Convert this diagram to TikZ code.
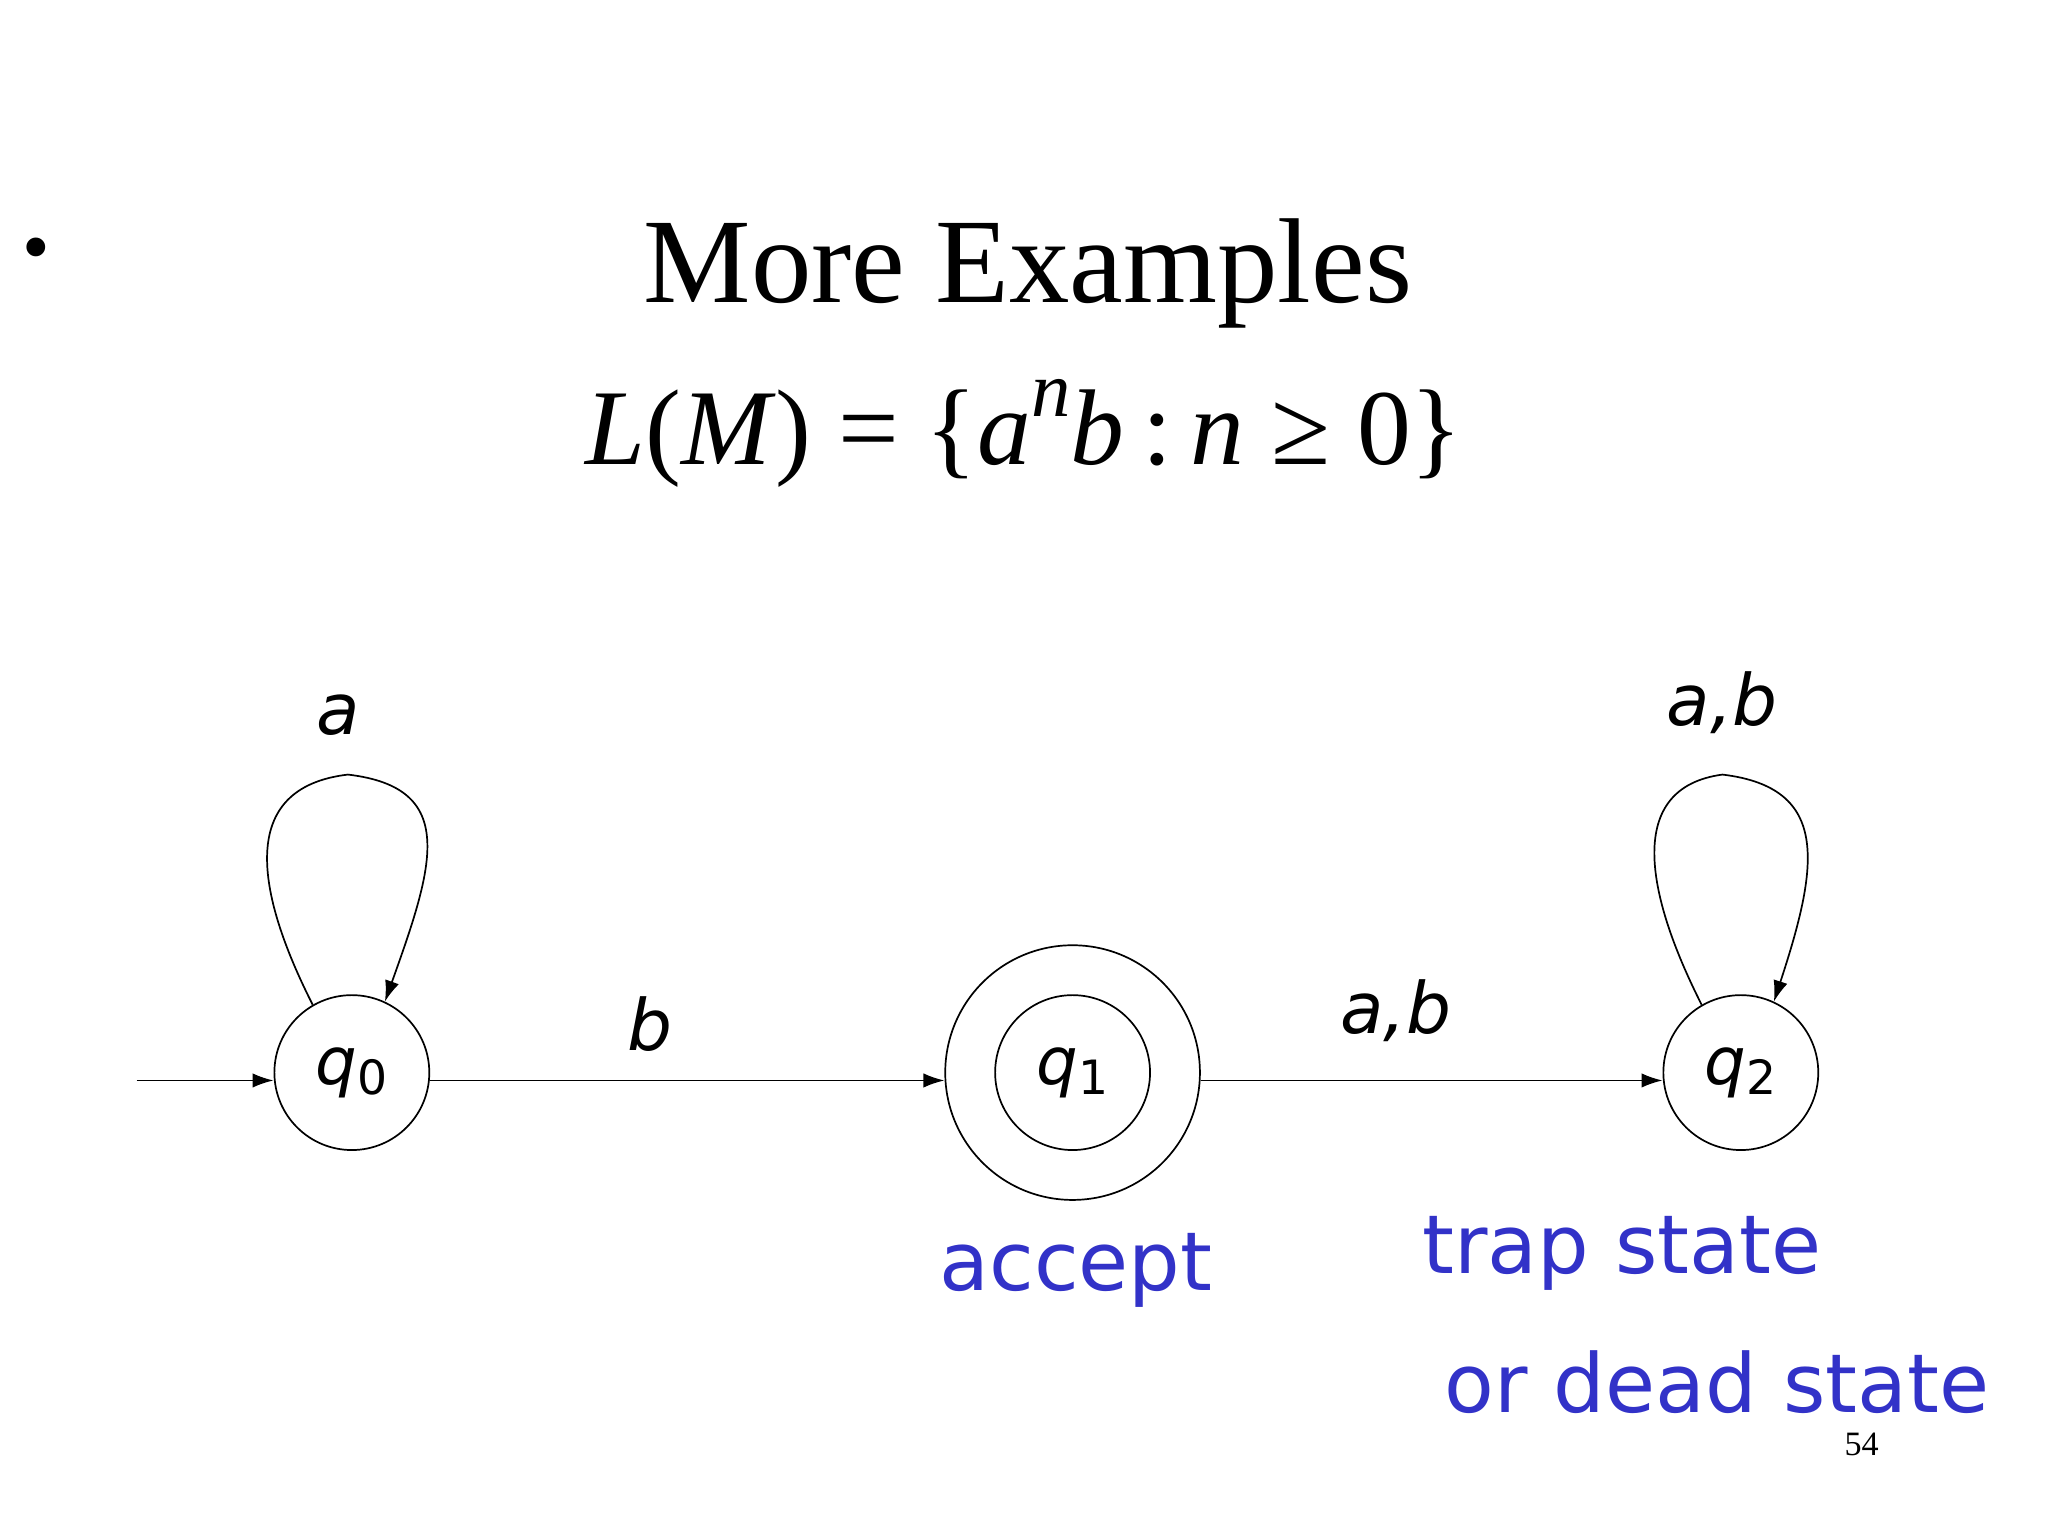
\documentclass[tikz,border=0pt]{standalone}
\usepackage{fontspec}
\setmainfont{Liberation Serif}
\newfontfamily\comic{DejaVu Sans}
\usetikzlibrary{arrows.meta}
\definecolor{noteblue}{RGB}{50,50,200}
\begin{document}
\begin{tikzpicture}[x=1pt,y=-1pt,
  st/.style={draw,circle,minimum size=118pt,inner sep=0pt,line width=1.3pt,font=\comic\itshape\fontsize{50}{50}\selectfont},
  tr/.style={-{Latex[length=16pt,width=11pt]},line width=1.3pt},
  lab/.style={font=\comic\fontsize{54}{54}\selectfont\itshape},
  note/.style={text=noteblue,font=\comic\fontsize{62}{62}\selectfont,anchor=west}]
\useasboundingbox (0,0) rectangle (1560,1170);
\node (bul) at (28,195) {\fontsize{60}{60}\selectfont •};
\node (title) at (783,208) {\fontsize{92}{92}\selectfont More Examples};
\node (form) at (780,330) {\fontsize{82}{82}\selectfont \textit{L}(\textit{M}) = \{\textit{a}\raisebox{0.45em}{\fontsize{60}{60}\selectfont\textit{n}}\textit{b}\,:\,\textit{n} ≥ 0\}};
\node[st] (q0) at (268,817) {q\raisebox{-0.15em}{\fontsize{36}{36}\selectfont\upshape 0}};
\node[st,minimum size=194pt] (q1o) at (817,817) {};
\node[st] (q1) at (817,817) {q\raisebox{-0.15em}{\fontsize{36}{36}\selectfont\upshape 1}};
\node[st] (q2) at (1326,817) {q\raisebox{-0.15em}{\fontsize{36}{36}\selectfont\upshape 2}};
\coordinate (s) at (104,823);
\draw[tr] (s) -- (q0.west|-s);
\draw[tr] (q0.east|-s) -- (q1o.west|-s);
\draw[tr] (q1o.east|-s) -- (q2.west|-s);
\draw[tr] (q0.120) .. controls (195,680) and (180,600) .. (265,590) .. controls (350,600) and (330,660) .. (q0.65);
\draw[tr] (q2.120) .. controls (1253,680) and (1238,600) .. (1312,590) .. controls (1395,600) and (1385,660) .. (q2.65);
\node[lab] (la) at (258,545) {a};
\node[lab] (lb) at (495,780) {b};
\node[lab] (lab1) at (1063,770) {a,b};
\node[lab] (lab2) at (1312,535) {a,b};
\node[note] (acc) at (712,968) {accept};
\node[note] (trap) at (1080,955) {trap state};
\node[note] (dead) at (1097,1053) {or dead state};
\node (pg) at (1418,1100) {\fontsize{26}{26}\selectfont 54};
\end{tikzpicture}
\end{document}
